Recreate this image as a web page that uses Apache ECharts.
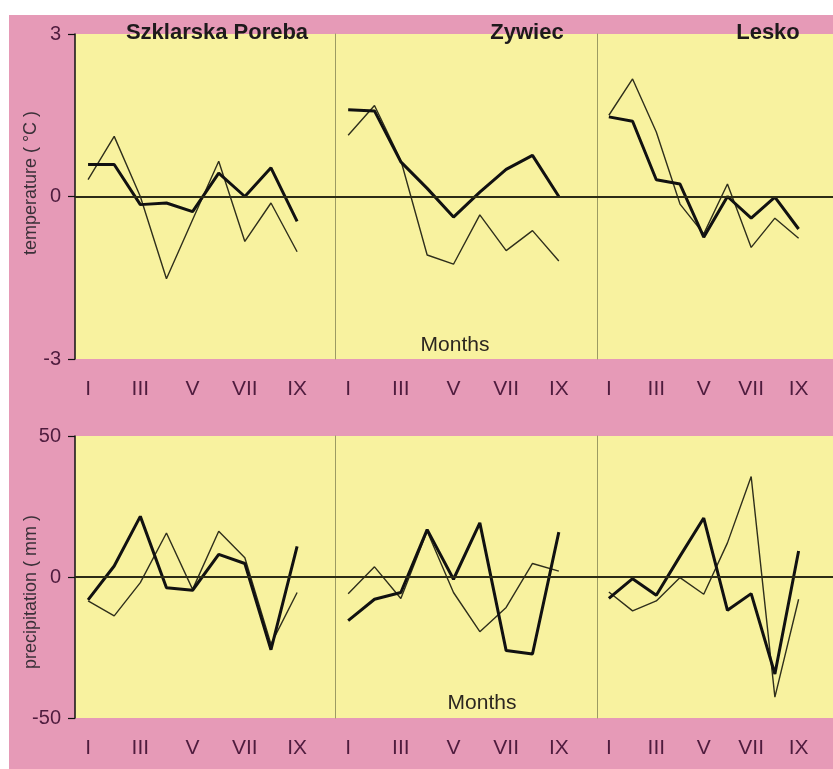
<!DOCTYPE html>
<html>
<head>
<meta charset="utf-8">
<script src="https://cdn.jsdelivr.net/npm/echarts@6/dist/echarts.min.js"></script>
<style>
html,body{margin:0;padding:0;background:#fff;}
#c{width:833px;height:769px;}
</style>
</head>
<body>
<div id="c"></div>
<script>
// ---- data ----
const months = [1, 2, 3, 4, 5, 6, 7, 8, 9];
const tickMonths = [1, 3, 5, 7, 9];
const tickLabels = ['I', 'III', 'V', 'VII', 'IX'];
const stations = ['Szklarska Poreba', 'Zywiec', 'Lesko'];

const szTempThick = [0.59, 0.59, -0.15, -0.12, -0.28, 0.43, 0.0, 0.53, -0.46];
const szTempThin  = [0.31, 1.11, 0.0, -1.52, -0.43, 0.65, -0.83, -0.12, -1.02];
const zyTempThick = [1.6, 1.58, 0.64, 0.15, -0.38, 0.08, 0.5, 0.76, 0.0];
const zyTempThin  = [1.13, 1.68, 0.67, -1.08, -1.25, -0.34, -1.0, -0.63, -1.19];
const leTempThick = [1.47, 1.39, 0.31, 0.23, -0.75, 0.0, -0.4, -0.01, -0.6];
const leTempThin  = [1.5, 2.17, 1.19, -0.14, -0.69, 0.23, -0.94, -0.4, -0.77];

const szPrecThick = [-8.1, 3.9, 21.5, -3.8, -4.7, 8.0, 4.8, -25.8, 10.9];
const szPrecThin  = [-8.5, -13.8, -2.0, 15.6, -4.4, 16.2, 6.8, -23.8, -5.5];
const zyPrecThick = [-15.5, -7.9, -5.5, 16.8, -0.8, 19.2, -26.1, -27.3, 15.9];
const zyPrecThin  = [-5.9, 3.6, -7.6, 16.2, -5.5, -19.4, -10.8, 4.8, 2.1];
const lePrecThick = [-7.6, -0.6, -6.5, 7.4, 20.9, -11.8, -5.9, -34.4, 9.2];
const lePrecThin  = [-5.3, -12.0, -8.5, -0.2, -6.1, 12.1, 35.6, -42.6, -7.9];

const tempRange = [-3, 3, 3];
const precRange = [-50, 50, 50];

// ---- layout / style ----
const PINK = '#e69ab7';
const YELLOW = '#f8f29f';
const MAROON = '#4f1c3e';
const FONT = 'Arial, "Liberation Sans", Helvetica, sans-serif';

const colLeft = [75, 335, 597];
const colWidth = [260, 262, 262];
const rowTop = [34, 436];
const rowHeight = [325, 282];

const thickSets = [[szTempThick, zyTempThick, leTempThick], [szPrecThick, zyPrecThick, lePrecThick]];
const thinSets = [[szTempThin, zyTempThin, leTempThin], [szPrecThin, zyPrecThin, lePrecThin]];
const ranges = [tempRange, precRange];

const grids = [], xAxes = [], yAxes = [], series = [];
let gi = 0;
for (let r = 0; r < 2; r++) {
  for (let c = 0; c < 3; c++) {
    grids.push({
      left: colLeft[c], top: rowTop[r], width: colWidth[c], height: rowHeight[r],
      show: true, backgroundColor: YELLOW, borderWidth: 0
    });
    xAxes.push({
      gridIndex: gi, type: 'value', min: 0.5, max: 10.45,
      axisLine: { show: false }, axisTick: { show: false }, splitLine: { show: false },
      axisLabel: {
        customValues: tickMonths, margin: 20,
        color: MAROON, fontSize: 21, fontFamily: FONT,
        formatter: v => tickLabels[tickMonths.indexOf(v)] || ''
      }
    });
    const rg = ranges[r];
    yAxes.push({
      gridIndex: gi, type: 'value', min: rg[0], max: rg[1], interval: rg[2],
      splitLine: { show: false },
      axisLine: { show: true, onZero: false, lineStyle: c === 0 ? { color: '#111', width: 1.5 } : { color: '#9c9b63', width: 1 } },
      axisTick: { show: c === 0, length: 7, lineStyle: { color: '#111', width: 1.2 } },
      axisLabel: { show: c === 0, margin: 14, color: MAROON, fontSize: 20, fontFamily: FONT }
    });
    series.push({
      type: 'line', xAxisIndex: gi, yAxisIndex: gi, symbol: 'none', z: 3,
      data: months.map((m, i) => [m, thinSets[r][c][i]]),
      lineStyle: { color: '#2f2f1c', width: 1.4 },
      markLine: {
        silent: true, symbol: 'none', label: { show: false },
        lineStyle: { color: '#2c2c16', width: 2, type: 'solid' },
        data: [{ yAxis: 0 }]
      }
    });
    series.push({
      type: 'line', xAxisIndex: gi, yAxisIndex: gi, symbol: 'none', z: 4,
      data: months.map((m, i) => [m, thickSets[r][c][i]]),
      lineStyle: { color: '#111', width: 3 }
    });
    gi++;
  }
}

const chart = echarts.init(document.getElementById('c'), null, { renderer: 'canvas' });
chart.setOption({
  backgroundColor: PINK,
  animation: false,
  grid: grids, xAxis: xAxes, yAxis: yAxes, series: series,
  graphic: [
    { type: 'rect', shape: { x: 0, y: 0, width: 833, height: 15 }, style: { fill: '#fff' }, z: 0 },
    { type: 'rect', shape: { x: 0, y: 0, width: 9, height: 769 }, style: { fill: '#fff' }, z: 0 },
    { type: 'text', x: 217, y: 33, z: 100, style: { text: stations[0], font: 'bold 22px ' + FONT, fill: '#1e1a1c', align: 'center', verticalAlign: 'middle' } },
    { type: 'text', x: 527, y: 33, z: 100, style: { text: stations[1], font: 'bold 22px ' + FONT, fill: '#1e1a1c', align: 'center', verticalAlign: 'middle' } },
    { type: 'text', x: 768, y: 33, z: 100, style: { text: stations[2], font: 'bold 22px ' + FONT, fill: '#1e1a1c', align: 'center', verticalAlign: 'middle' } },
    { type: 'text', x: 455, y: 345, z: 100, style: { text: 'Months', font: '21px ' + FONT, fill: '#2b2620', align: 'center', verticalAlign: 'middle' } },
    { type: 'text', x: 482, y: 703, z: 100, style: { text: 'Months', font: '21px ' + FONT, fill: '#2b2620', align: 'center', verticalAlign: 'middle' } },
    { type: 'text', x: 31, y: 183, rotation: Math.PI / 2, z: 100, style: { text: 'temperature ( °C )', font: '18px "Liberation Sans Narrow", ' + FONT, fill: '#3a3038', align: 'center', verticalAlign: 'middle' } },
    { type: 'text', x: 31, y: 592, rotation: Math.PI / 2, z: 100, style: { text: 'precipitation ( mm )', font: '18px "Liberation Sans Narrow", ' + FONT, fill: '#3a3038', align: 'center', verticalAlign: 'middle' } }
  ]
});
</script>
</body>
</html>
